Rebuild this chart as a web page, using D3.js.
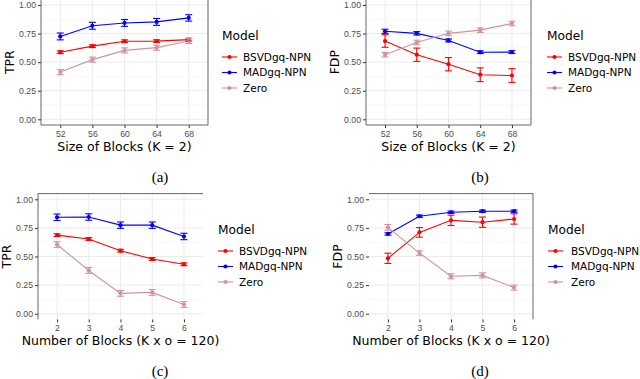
<!DOCTYPE html>
<html>
<head>
<meta charset="utf-8">
<script src="https://cdn.jsdelivr.net/npm/d3@7"></script>
<style>
  body { margin: 0; background: #fff; }
  svg { display: block; font-family: 'DejaVu Sans', sans-serif; }
  .tick text { fill: #4d4d4d; font-size: 8.7px; }
</style>
</head>
<body>
<div id="vis"></div>
<script>
// categories and tick labels
const modelNames = ['BSVDgq-NPN', 'MADgq-NPN', 'Zero'];
const modelColors = ['#ff0000', '#0000ff', '#d0939e'];
const blockSizes = [52, 56, 60, 64, 68];
const blockCounts = [2, 3, 4, 5, 6];
const yTicks = [0, 0.25, 0.5, 0.75, 1];

// (a) TPR vs size of blocks
const tprSizeBsvd = [0.587, 0.640, 0.683, 0.684, 0.697];
const tprSizeBsvdErr = [0.012, 0.012, 0.012, 0.012, 0.012];
const tprSizeMad = [0.725, 0.818, 0.843, 0.852, 0.887];
const tprSizeMadErr = [0.03, 0.03, 0.03, 0.03, 0.028];
const tprSizeZero = [0.413, 0.522, 0.603, 0.627, 0.685];
const tprSizeZeroErr = [0.022, 0.022, 0.022, 0.022, 0.022];

// (b) FDP vs size of blocks
const fdpSizeBsvd = [0.685, 0.565, 0.482, 0.39, 0.383];
const fdpSizeBsvdErr = [0.055, 0.058, 0.058, 0.06, 0.06];
const fdpSizeMad = [0.77, 0.752, 0.69, 0.587, 0.588];
const fdpSizeMadErr = [0.018, 0.015, 0.013, 0.012, 0.012];
const fdpSizeZero = [0.565, 0.672, 0.752, 0.78, 0.838];
const fdpSizeZeroErr = [0.02, 0.02, 0.02, 0.02, 0.02];

// (c) TPR vs number of blocks
const tprCountBsvd = [0.687, 0.653, 0.551, 0.478, 0.432];
const tprCountBsvdErr = [0.012, 0.012, 0.012, 0.012, 0.012];
const tprCountMad = [0.843, 0.845, 0.774, 0.774, 0.675];
const tprCountMadErr = [0.028, 0.028, 0.028, 0.028, 0.028];
const tprCountZero = [0.605, 0.378, 0.178, 0.186, 0.08];
const tprCountZeroErr = [0.025, 0.025, 0.025, 0.025, 0.025];

// (d) FDP vs number of blocks
const fdpCountBsvd = [0.484, 0.711, 0.816, 0.80, 0.828];
const fdpCountBsvdErr = [0.045, 0.042, 0.045, 0.045, 0.045];
const fdpCountMad = [0.697, 0.852, 0.887, 0.896, 0.896];
const fdpCountMadErr = [0.01, 0.01, 0.01, 0.01, 0.01];
const fdpCountZero = [0.755, 0.53, 0.327, 0.335, 0.228];
const fdpCountZeroErr = [0.025, 0.02, 0.022, 0.022, 0.022];

// panel layout
const panels = [
    { cats: blockSizes, ylab: 'TPR', xlab: 'Size of Blocks (K = 2)', caption: '(a)',
      vals: [tprSizeBsvd, tprSizeMad, tprSizeZero], errs: [tprSizeBsvdErr, tprSizeMadErr, tprSizeZeroErr],
      x0: 41, x1: 208, yTop: 5, yBot: 119.3, ylabX: 10, legX: 222, legY: 40, labX: 243,
      border: ['top', 'right', 'bottom', 'left'], capX: 160, capY: 182 },
    { cats: blockSizes, ylab: 'FDP', xlab: 'Size of Blocks (K = 2)', caption: '(b)',
      vals: [fdpSizeBsvd, fdpSizeMad, fdpSizeZero], errs: [fdpSizeBsvdErr, fdpSizeMadErr, fdpSizeZeroErr],
      x0: 366, x1: 531, yTop: 5, yBot: 119.3, ylabX: 335, legX: 547, legY: 40, labX: 568,
      border: ['top', 'right', 'bottom', 'left'], capX: 480, capY: 182 },
    { cats: blockCounts, ylab: 'TPR', xlab: 'Number of Blocks (K x o = 120)', caption: '(c)',
      vals: [tprCountBsvd, tprCountMad, tprCountZero], errs: [tprCountBsvdErr, tprCountMadErr, tprCountZeroErr],
      x0: 38, x1: 203, yTop: 199.3, yBot: 313.7, ylabX: 7, legX: 218, legY: 234, labX: 239,
      border: ['top', 'left'], capX: 160, capY: 376 },
    { cats: blockCounts, ylab: 'FDP', xlab: 'Number of Blocks (K x o = 120)', caption: '(d)',
      vals: [fdpCountBsvd, fdpCountMad, fdpCountZero], errs: [fdpCountBsvdErr, fdpCountMadErr, fdpCountZeroErr],
      x0: 369, x1: 533, yTop: 199.3, yBot: 313.7, ylabX: 338, legX: 548, legY: 234, labX: 571,
      border: ['top', 'right'], capX: 480, capY: 376 }
];

const svg = d3.select('#vis')
    .append('svg')
    .attr('width', 640)
    .attr('height', 379);

function drawPanel(p) {
    const g = svg.append('g');

    const x = d3.scalePoint()
        .domain(p.cats)
        .range([p.x0, p.x1])
        .padding(0.6);

    const y = d3.scaleLinear()
        .domain([0, 1])
        .range([p.yBot, p.yTop]);

    const top = y(1.05), bottom = y(-0.05);

    // grid lines
    const minor = [0.125, 0.375, 0.625, 0.875];
    g.selectAll('.minor').data(minor).join('line')
        .attr('x1', p.x0).attr('x2', p.x1)
        .attr('y1', d => y(d)).attr('y2', d => y(d))
        .attr('stroke', '#f2f2f2').attr('stroke-width', 0.6);
    g.selectAll('.hmajor').data(yTicks).join('line')
        .attr('x1', p.x0).attr('x2', p.x1)
        .attr('y1', d => y(d)).attr('y2', d => y(d))
        .attr('stroke', '#ebebeb').attr('stroke-width', 1);
    g.selectAll('.vmajor').data(p.cats).join('line')
        .attr('x1', d => x(d)).attr('x2', d => x(d))
        .attr('y1', top).attr('y2', bottom)
        .attr('stroke', '#ebebeb').attr('stroke-width', 1);

    // axes
    g.append('g')
        .attr('transform', `translate(${p.x0},0)`)
        .call(d3.axisLeft(y).tickValues(yTicks).tickFormat(d3.format('.2f')).tickSize(3).tickPadding(2))
        .call(a => a.select('.domain').remove())
        .call(a => a.selectAll('.tick line').attr('stroke', '#333'));
    g.append('g')
        .attr('transform', `translate(0,${bottom})`)
        .call(d3.axisBottom(x).tickSize(3).tickPadding(2.5))
        .call(a => a.select('.domain').remove())
        .call(a => a.selectAll('.tick line').attr('stroke', '#333'));

    // panel border
    const sides = {
        top: [p.x0, top, p.x1, top],
        bottom: [p.x0, bottom, p.x1, bottom],
        left: [p.x0, top, p.x0, bottom],
        right: [p.x1, top, p.x1, bottom]
    };
    p.border.forEach(s => {
        const c = sides[s];
        g.append('line')
            .attr('x1', c[0]).attr('y1', c[1]).attr('x2', c[2]).attr('y2', c[3])
            .attr('stroke', '#555').attr('stroke-width', 0.9);
    });

    // series: lines, points, error bars
    const series = modelNames.map((m, i) => ({
        name: m, color: modelColors[i],
        pts: p.cats.map((c, j) => ({ c, v: p.vals[i][j], e: p.errs[i][j] }))
    }));
    const line = d3.line().x(d => x(d.c)).y(d => y(d.v));

    series.forEach(s => {
        g.append('path')
            .attr('d', line(s.pts))
            .attr('fill', 'none')
            .attr('stroke', s.color)
            .attr('stroke-width', 1.1);
    });
    series.forEach(s => {
        g.selectAll(null).data(s.pts).join('circle')
            .attr('cx', d => x(d.c)).attr('cy', d => y(d.v))
            .attr('r', 2.1).attr('fill', s.color);
    });
    series.forEach(s => {
        const eb = g.append('g').attr('stroke', s.color).attr('stroke-width', 1.1);
        s.pts.forEach(d => {
            const cx = x(d.c), lo = y(d.v - d.e), hi = y(d.v + d.e);
            eb.append('line').attr('x1', cx).attr('x2', cx).attr('y1', lo).attr('y2', hi);
            eb.append('line').attr('x1', cx - 3.5).attr('x2', cx + 3.5).attr('y1', lo).attr('y2', lo);
            eb.append('line').attr('x1', cx - 3.5).attr('x2', cx + 3.5).attr('y1', hi).attr('y2', hi);
        });
    });

    // axis titles
    g.append('text')
        .attr('x', (p.x0 + p.x1) / 2).attr('y', bottom + 26)
        .attr('text-anchor', 'middle')
        .attr('font-size', 12.5)
        .text(p.xlab);
    g.append('text')
        .attr('transform', `translate(${p.ylabX + 4},${(top + bottom) / 2}) rotate(-90)`)
        .attr('text-anchor', 'middle')
        .attr('font-size', 12.5)
        .text(p.ylab);

    // legend
    g.append('text')
        .attr('x', p.legX).attr('y', p.legY)
        .attr('font-size', 12.2)
        .text('Model');
    series.forEach((s, i) => {
        const ly = p.legY + 17 + i * 15.5;
        g.append('line')
            .attr('x1', p.legX).attr('x2', p.legX + 15)
            .attr('y1', ly).attr('y2', ly)
            .attr('stroke', s.color).attr('stroke-width', 1.1);
        g.append('circle')
            .attr('cx', p.legX + 7.5).attr('cy', ly).attr('r', 2.1)
            .attr('fill', s.color);
        g.append('text')
            .attr('x', p.labX).attr('y', ly + 3.7)
            .attr('font-size', 10.5)
            .text(s.name);
    });

    // sub caption
    g.append('text')
        .attr('x', p.capX).attr('y', p.capY)
        .attr('text-anchor', 'middle')
        .attr('font-family', "'Liberation Serif', serif")
        .attr('font-size', 15)
        .text(p.caption);
}

panels.forEach(drawPanel);
</script>
</body>
</html>
